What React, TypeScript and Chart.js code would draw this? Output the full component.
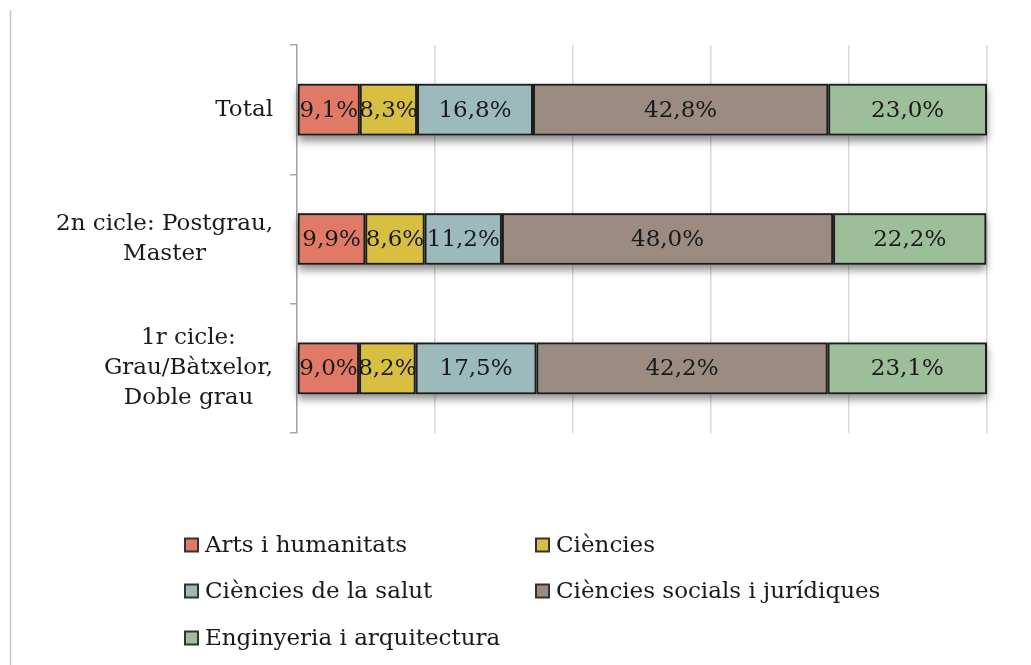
import React, { useEffect, useRef } from "react";
import { Chart, registerables } from "chart.js";

Chart.register(...registerables);

const categories: string[][] = [
  ["Total"],
  ["2n cicle: Postgrau,", "Master"],
  ["1r cicle:", "Grau/Bàtxelor,", "Doble grau"],
];
const seriesNames = [
  "Arts i humanitats",
  "Ciències",
  "Ciències de la salut",
  "Ciències socials i jurídiques",
  "Enginyeria i arquitectura",
];
const artsHumanitats = [9.1, 9.9, 9.0];
const ciencies = [8.3, 8.6, 8.2];
const cienciesSalut = [16.8, 11.2, 17.5];
const cienciesSocials = [42.8, 48.0, 42.2];
const enginyeria = [23.0, 22.2, 23.1];
const axisMin = 0;
const axisMax = 100;
const axisStep = 20;

const seriesValues = [artsHumanitats, ciencies, cienciesSalut, cienciesSocials, enginyeria];
const seriesColors = ["#E07A66", "#D8BF42", "#9CBABB", "#9C8B80", "#9CBE98"];

const FONT = "'DejaVu Serif', 'Liberation Serif', serif";
const TEXT = "#1a1a1a";

const fmt = (v: number) => v.toFixed(1).replace(".", ",") + "%";

const framePlugin = {
  id: "frame",
  beforeDraw(chart: any) {
    const ctx = chart.ctx;
    ctx.save();
    ctx.fillStyle = "#ffffff";
    ctx.fillRect(0, 0, chart.width, chart.height);
    ctx.strokeStyle = "#c8c8c8";
    ctx.lineWidth = 1.5;
    ctx.beginPath();
    ctx.moveTo(10.5, 10);
    ctx.lineTo(10.5, chart.height);
    ctx.stroke();
    ctx.restore();
  },
};

const shadowPlugin = {
  id: "stackShadow",
  beforeDatasetsDraw(chart: any) {
    const ctx = chart.ctx;
    const n = chart.data.datasets.length;
    const first = chart.getDatasetMeta(0);
    const last = chart.getDatasetMeta(n - 1);
    ctx.save();
    ctx.shadowColor = "rgba(0,0,0,0.45)";
    ctx.shadowBlur = 8;
    ctx.shadowOffsetY = 5;
    ctx.fillStyle = "#777";
    first.data.forEach((el: any, i: number) => {
      const e2 = last.data[i];
      const left = Math.min(el.base, e2.x);
      const right = Math.max(el.base, e2.x);
      ctx.fillRect(left, el.y - el.height / 2, right - left, el.height);
    });
    ctx.restore();
  },
};

const valueLabelPlugin = {
  id: "valueLabels",
  afterDatasetsDraw(chart: any) {
    const ctx = chart.ctx;
    ctx.save();
    ctx.font = `23px ${FONT}`;
    ctx.fillStyle = TEXT;
    ctx.textAlign = "center";
    ctx.textBaseline = "middle";
    chart.data.datasets.forEach((ds: any, di: number) => {
      const meta = chart.getDatasetMeta(di);
      meta.data.forEach((el: any, i: number) => {
        const cx = (el.x + el.base) / 2;
        ctx.fillText(fmt(ds.data[i]), cx, el.y + 1);
      });
    });
    ctx.restore();
  },
};

const categoryLabelPlugin = {
  id: "categoryLabels",
  afterDraw(chart: any) {
    const ctx = chart.ctx;
    const yScale = chart.scales.y;
    const rightEdge = 273;
    const lh = 30;
    ctx.save();
    ctx.font = `23px ${FONT}`;
    ctx.fillStyle = TEXT;
    ctx.textAlign = "center";
    ctx.textBaseline = "middle";
    (chart.data.labels as string[][]).forEach((lines, i) => {
      const y = yScale.getPixelForTick(i);
      const w = Math.max(...lines.map((l) => ctx.measureText(l).width));
      const cx = rightEdge - w / 2;
      const y0 = y - ((lines.length - 1) * lh) / 2;
      lines.forEach((l, k) => ctx.fillText(l, cx, y0 + k * lh));
    });
    ctx.restore();
  },
};

const legendPlugin = {
  id: "customLegend",
  afterDraw(chart: any) {
    const ctx = chart.ctx;
    const colX = [184, 535];
    const rowY = [545, 591, 638];
    const box = 15;
    ctx.save();
    ctx.font = `23px ${FONT}`;
    ctx.textBaseline = "middle";
    ctx.textAlign = "left";
    chart.data.datasets.forEach((ds: any, i: number) => {
      const x = colX[i % 2];
      const y = rowY[Math.floor(i / 2)];
      ctx.fillStyle = "#333";
      ctx.fillRect(x, y - box / 2, box, box);
      ctx.fillStyle = ds.backgroundColor;
      ctx.fillRect(x + 2, y - box / 2 + 2, box - 4, box - 4);
      ctx.fillStyle = TEXT;
      ctx.fillText(ds.label, x + box + 6, y + 1);
    });
    ctx.restore();
  },
};

export default function App() {
  const ref = useRef<HTMLCanvasElement>(null);
  useEffect(() => {
    if (!ref.current) return;
    const chart = new Chart(ref.current, {
      type: "bar",
      data: {
        labels: categories as any,
        datasets: seriesNames.map((name, i) => ({
          label: name,
          data: seriesValues[i],
          backgroundColor: seriesColors[i],
          borderColor: "#1c1c1c",
          borderWidth: 2,
          borderSkipped: false,
          barPercentage: 0.4,
          categoryPercentage: 1,
        })),
      },
      options: {
        indexAxis: "y",
        responsive: false,
        animation: false,
        layout: { padding: { left: 10, right: 44, top: 45, bottom: 232 } },
        plugins: {
          legend: { display: false },
          tooltip: { enabled: false },
          title: { display: false },
        },
        scales: {
          x: {
            type: "linear",
            stacked: true,
            min: axisMin,
            max: axisMax,
            ticks: { display: false, stepSize: axisStep },
            grid: { color: "#d9d9d9", lineWidth: 1.5, drawTicks: false },
            border: { display: false },
            afterFit(scale: any) {
              scale.height = 0;
            },
          },
          y: {
            type: "category",
            stacked: true,
            offset: true,
            ticks: { display: false },
            grid: {
              offset: true,
              drawOnChartArea: false,
              drawTicks: true,
              tickLength: 7,
              color: "#a6a6a6",
              lineWidth: 1.5,
            },
            border: { display: true, color: "#a6a6a6", width: 1.5 },
            afterFit(scale: any) {
              scale.width = 287;
            },
          },
        },
      },
      plugins: [framePlugin, shadowPlugin, valueLabelPlugin, categoryLabelPlugin, legendPlugin],
    });
    return () => chart.destroy();
  }, []);
  return (
    <div style={{ position: "fixed", left: 0, top: 0, width: 1031, height: 665, background: "#fff" }}>
      <canvas ref={ref} width={1031} height={665} style={{ display: "block" }} />
    </div>
  );
}
